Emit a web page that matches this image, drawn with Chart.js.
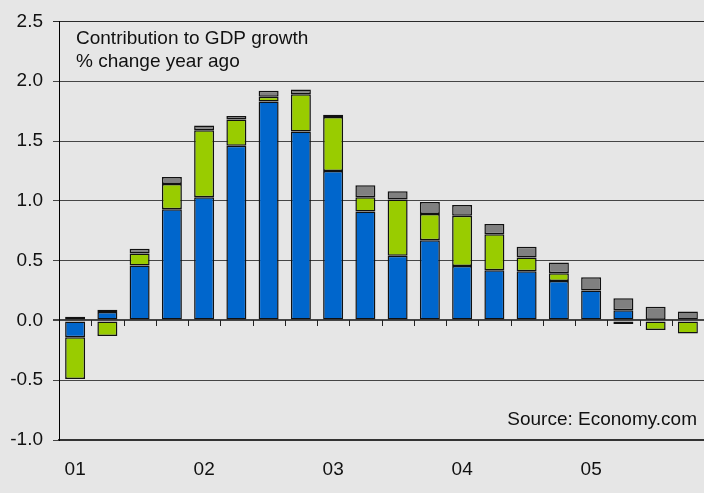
<!DOCTYPE html>
<html>
<head>
<meta charset="utf-8">
<script src="https://cdn.jsdelivr.net/npm/chart.js@4.4.1/dist/chart.umd.min.js"></script>
<style>
  html, body { margin: 0; padding: 0; background: #e6e6e6; }
  #wrap { width: 704px; height: 493px; }
</style>
</head>
<body>
<div id="wrap"><canvas id="c" width="704" height="493"></canvas></div>
<script>
const quarters = ['2001Q1','2001Q2','2001Q3','2001Q4','2002Q1','2002Q2','2002Q3','2002Q4',
                  '2003Q1','2003Q2','2003Q3','2003Q4','2004Q1','2004Q2','2004Q3','2004Q4',
                  '2005Q1','2005Q2','2005Q3','2005Q4'];
const yearLabels = ['01','02','03','04','05'];
const blueSeries  = [-0.14, 0.07, 0.46, 0.93, 1.03, 1.46, 1.83, 1.58, 1.25, 0.91, 0.54, 0.67, 0.455, 0.42, 0.41, 0.33, 0.25, 0.085, 0.005, -0.01];
const greenSeries = [-0.35, -0.13, 0.10, 0.21, 0.56, 0.22, 0.04, 0.31, 0.45, 0.12, 0.47, 0.22, 0.42, 0.30, 0.115, 0.065, 0.0, -0.03, -0.08, -0.10];
const graySeries  = [0.03, 0.02, 0.04, 0.06, 0.04, 0.03, 0.05, 0.04, 0.02, 0.10, 0.07, 0.10, 0.09, 0.085, 0.09, 0.09, 0.11, 0.10, 0.11, 0.075];
const yTicks = [-1.0, -0.5, 0.0, 0.5, 1.0, 1.5, 2.0, 2.5];
const titleLines = ['Contribution to GDP growth', '% change year ago'];
const sourceText = 'Source: Economy.com';

const FONT = '"Liberation Sans", Arial, sans-serif';

const bgPlugin = {
  id: 'bg',
  beforeDraw(chart) {
    const ctx = chart.ctx;
    ctx.save();
    ctx.fillStyle = '#e6e6e6';
    ctx.fillRect(0, 0, chart.width, chart.height);
    ctx.restore();
  }
};

const zeroTicksPlugin = {
  id: 'zeroTicks',
  afterDatasetsDraw(chart) {
    const ctx = chart.ctx;
    const xs = chart.scales.x, ys = chart.scales.y;
    const y0 = Math.round(ys.getPixelForValue(0));
    ctx.save();
    ctx.strokeStyle = '#222';
    ctx.lineWidth = 1;
    ctx.beginPath();
    for (let i = 1; i < quarters.length; i++) {
      const x = Math.round((xs.getPixelForValue(i - 1) + xs.getPixelForValue(i)) / 2) + 0.5;
      ctx.moveTo(x, y0);
      ctx.lineTo(x, y0 + 6);
    }
    ctx.stroke();
    ctx.restore();
  }
};

const textPlugin = {
  id: 'texts',
  afterDraw(chart) {
    const ctx = chart.ctx;
    const a = chart.chartArea;
    ctx.save();
    ctx.fillStyle = '#111';
    ctx.font = '19px ' + FONT;
    ctx.textBaseline = 'alphabetic';
    ctx.textAlign = 'left';
    ctx.fillText(titleLines[0], a.left + 17, 44);
    ctx.fillText(titleLines[1], a.left + 17, 67);
    ctx.textAlign = 'right';
    ctx.fillText(sourceText, 697, 425);
    ctx.restore();
  }
};

const ds = (label, data, color) => ({
  label, data,
  backgroundColor: color,
  borderColor: '#111',
  borderWidth: 1.5,
  borderSkipped: false,
  inflateAmount: 0,
  barPercentage: 0.62,
  categoryPercentage: 1.0,
  stack: 's'
});

new Chart(document.getElementById('c'), {
  type: 'bar',
  data: {
    labels: quarters,
    datasets: [
      ds('Blue', blueSeries, '#0066cc'),
      ds('Green', greenSeries, '#99cc00'),
      ds('Gray', graySeries, '#808080')
    ]
  },
  plugins: [bgPlugin, zeroTicksPlugin, textPlugin],
  options: {
    responsive: false,
    animation: false,
    devicePixelRatio: 1,
    layout: { padding: { top: 17, right: 0, left: 0, bottom: 0 } },
    plugins: { legend: { display: false }, tooltip: { enabled: false }, title: { display: false } },
    scales: {
      x: {
        stacked: true,
        grid: { display: false },
        border: { display: true, color: '#333', width: 2 },
        ticks: {
          autoSkip: false, maxRotation: 0, minRotation: 0,
          padding: 10,
          color: '#111',
          font: { family: FONT, size: 19 },
          callback: (v, i) => (i % 4 === 0 ? yearLabels[i / 4] : '')
        },
        afterFit(scale) { scale.height = 53; }
      },
      y: {
        stacked: true,
        min: -1.0, max: 2.5,
        afterBuildTicks(scale) { scale.ticks = yTicks.map(v => ({ value: v })); },
        grid: {
          color: (c) => (c.tick && c.tick.value === 2.5 ? '#2a2a2a' : '#454545'),
          lineWidth: (c) => (c.tick && c.tick.value === 0 ? 2 : 1),
          tickLength: 6,
          drawTicks: true
        },
        border: { display: true, color: '#000', width: 1 },
        ticks: {
          padding: 10,
          color: '#111',
          font: { family: FONT, size: 19 },
          callback: (v) => Number(v).toFixed(1)
        },
        afterFit(scale) { scale.width = 59; }
      }
    }
  }
});
</script>
</body>
</html>
